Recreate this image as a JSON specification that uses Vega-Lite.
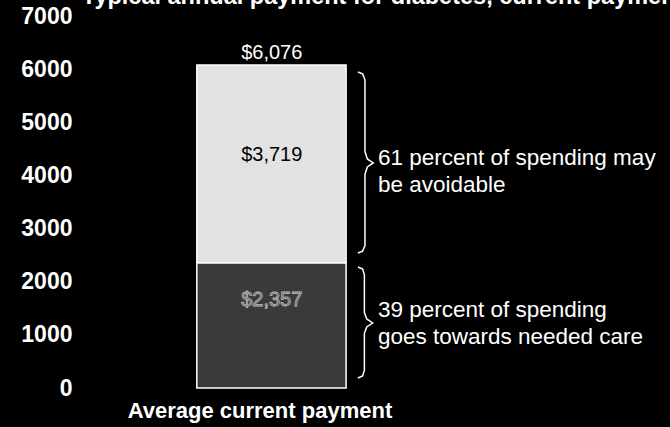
{
  "$schema": "https://vega.github.io/schema/vega-lite/v6.json",
  "autosize": {"type": "none"},
  "padding": {"left": 80, "top": 16, "right": 0, "bottom": 39},
  "width": 590,
  "height": 372,
  "background": "black",
  "config": {"view": {"stroke": null}, "font": "Liberation Sans"},
  "datasets": {
    "bars": [
      {"segment": "Needed care", "start": 0, "end": 2357},
      {"segment": "May be avoidable", "start": 2357, "end": 6076}
    ],
    "labels": [
      {"label": "$6,076", "pos": 6300, "kind": "total"},
      {"label": "$3,719", "pos": 4385, "kind": "avoidable"},
      {"label": "$2,357", "pos": 1656, "kind": "needed"}
    ],
    "braces": [
      {"brace": "avoidable", "ord": 1, "bx": 47.1, "by": 5947},
      {"brace": "avoidable", "ord": 2, "bx": 47.9, "by": 5910},
      {"brace": "avoidable", "ord": 3, "bx": 48.3, "by": 5800},
      {"brace": "avoidable", "ord": 4, "bx": 48.3, "by": 4450},
      {"brace": "avoidable", "ord": 5, "bx": 48.7, "by": 4310},
      {"brace": "avoidable", "ord": 6, "bx": 49.7, "by": 4234},
      {"brace": "avoidable", "ord": 7, "bx": 48.7, "by": 4160},
      {"brace": "avoidable", "ord": 8, "bx": 48.3, "by": 4020},
      {"brace": "avoidable", "ord": 9, "bx": 48.3, "by": 2680},
      {"brace": "avoidable", "ord": 10, "bx": 47.9, "by": 2575},
      {"brace": "avoidable", "ord": 11, "bx": 47.1, "by": 2540},
      {"brace": "needed", "ord": 1, "bx": 47.1, "by": 2277},
      {"brace": "needed", "ord": 2, "bx": 47.9, "by": 2240},
      {"brace": "needed", "ord": 3, "bx": 48.2, "by": 2130},
      {"brace": "needed", "ord": 4, "bx": 48.2, "by": 1420},
      {"brace": "needed", "ord": 5, "bx": 48.6, "by": 1300},
      {"brace": "needed", "ord": 6, "bx": 49.6, "by": 1223},
      {"brace": "needed", "ord": 7, "bx": 48.6, "by": 1150},
      {"brace": "needed", "ord": 8, "bx": 48.2, "by": 1030},
      {"brace": "needed", "ord": 9, "bx": 48.2, "by": 330},
      {"brace": "needed", "ord": 10, "bx": 47.9, "by": 225},
      {"brace": "needed", "ord": 11, "bx": 47.1, "by": 188}
    ],
    "notes": [
      {"note": "61 percent of spending may\nbe avoidable", "pos": 4330},
      {"note": "39 percent of spending\ngoes towards needed care", "pos": 1468}
    ],
    "texts": [
      {"text": "Average current payment", "role": "xtitle"},
      {"text": "Typical annual payment for diabetes, current payment", "role": "title"}
    ]
  },
  "layer": [
    {
      "data": {"name": "bars"},
      "mark": {"type": "bar", "stroke": "white", "strokeWidth": 1.5},
      "encoding": {
        "x": {"datum": 19.8, "type": "quantitative", "scale": {"domain": [0, 100]}, "axis": null},
        "x2": {"datum": 45.1},
        "y": {
          "field": "start",
          "type": "quantitative",
          "scale": {"domain": [0, 7000]},
          "axis": {
            "title": null,
            "values": [0, 1000, 2000, 3000, 4000, 5000, 6000, 7000],
            "format": "d",
            "labelColor": "white",
            "labelFont": "Liberation Sans",
            "labelFontSize": 23,
            "labelFontWeight": "bold",
            "labelFlush": false,
            "labelPadding": 8,
            "ticks": false,
            "domain": false,
            "grid": false
          }
        },
        "y2": {"field": "end"},
        "color": {
          "field": "segment",
          "type": "nominal",
          "scale": {"domain": ["Needed care", "May be avoidable"], "range": ["#3a3a3a", "#e2e2e2"]},
          "legend": null
        }
      }
    },
    {
      "data": {"name": "labels"},
      "transform": [{"filter": "datum.kind === 'total'"}],
      "mark": {"type": "text", "fontSize": 20, "color": "white", "baseline": "middle", "align": "center"},
      "encoding": {
        "x": {"datum": 32.5, "type": "quantitative"},
        "y": {"field": "pos", "type": "quantitative"},
        "text": {"field": "label"}
      }
    },
    {
      "data": {"name": "labels"},
      "transform": [{"filter": "datum.kind === 'avoidable'"}],
      "mark": {"type": "text", "fontSize": 20, "color": "black", "baseline": "middle", "align": "center"},
      "encoding": {
        "x": {"datum": 32.5, "type": "quantitative"},
        "y": {"field": "pos", "type": "quantitative"},
        "text": {"field": "label"}
      }
    },
    {
      "data": {"name": "labels"},
      "transform": [{"filter": "datum.kind === 'needed'"}],
      "mark": {"type": "text", "fontSize": 20, "color": "#555555", "stroke": "#bbbbbb", "strokeWidth": 0.8, "baseline": "middle", "align": "center"},
      "encoding": {
        "x": {"datum": 32.5, "type": "quantitative"},
        "y": {"field": "pos", "type": "quantitative"},
        "text": {"field": "label"}
      }
    },
    {
      "data": {"name": "braces"},
      "mark": {"type": "line", "color": "white", "strokeWidth": 1.5, "interpolate": "linear"},
      "encoding": {
        "x": {"field": "bx", "type": "quantitative"},
        "y": {"field": "by", "type": "quantitative"},
        "detail": {"field": "brace"},
        "order": {"field": "ord"}
      }
    },
    {
      "data": {"name": "notes"},
      "mark": {"type": "text", "fontSize": 22.5, "color": "white", "align": "left", "baseline": "middle", "lineBreak": "\n", "lineHeight": 27},
      "encoding": {
        "x": {"datum": 50.5, "type": "quantitative"},
        "y": {"field": "pos", "type": "quantitative"},
        "text": {"field": "note"}
      }
    },
    {
      "data": {"name": "texts"},
      "transform": [{"filter": "datum.role === 'xtitle'"}],
      "mark": {"type": "text", "fontSize": 22, "fontWeight": "bold", "color": "white", "align": "center", "baseline": "middle"},
      "encoding": {
        "x": {"datum": 30.5, "type": "quantitative"},
        "y": {"datum": -430, "type": "quantitative"},
        "text": {"field": "text"}
      }
    },
    {
      "data": {"name": "texts"},
      "transform": [{"filter": "datum.role === 'title'"}],
      "mark": {"type": "text", "fontSize": 23.5, "fontWeight": "bold", "color": "white", "align": "left", "baseline": "alphabetic"},
      "encoding": {
        "x": {"datum": 0.3, "type": "quantitative"},
        "y": {"datum": 7220, "type": "quantitative"},
        "text": {"field": "text"}
      }
    }
  ]
}
